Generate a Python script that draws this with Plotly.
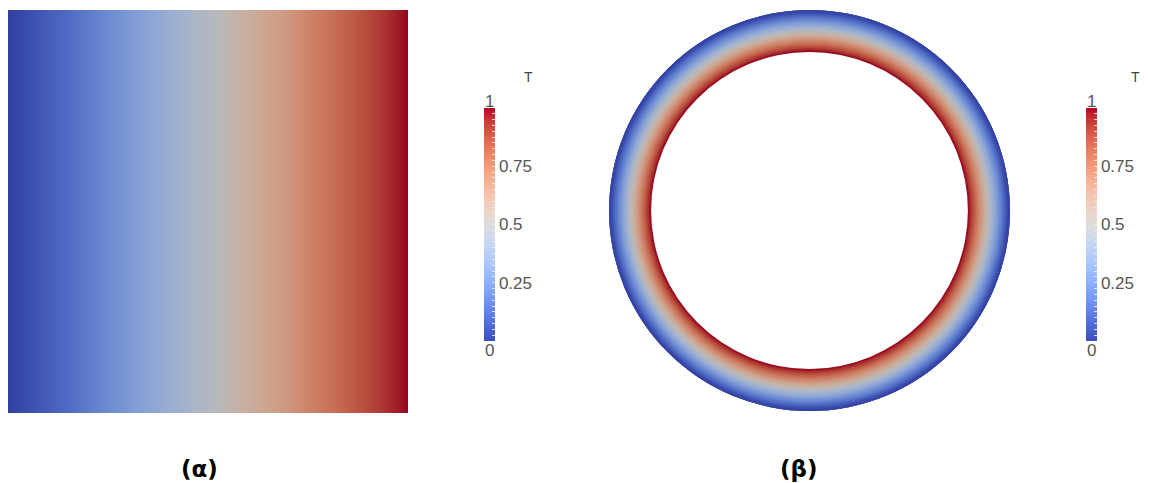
import plotly.graph_objects as go

# page body has an 8px margin; the figure is sized to fit the window
OFF = 8
W, H = 1149 - OFF, 483 - OFF


def px(X):
    return (X - OFF) / W


def py(Y):
    return 1 - (Y - OFF) / H


# ---------- data ----------
# (a) square: temperature sampled across x (left -> right)
x_pos = [0.0, 0.05, 0.1, 0.15, 0.2, 0.25, 0.3, 0.35, 0.4, 0.45, 0.5,
         0.55, 0.6, 0.65, 0.7, 0.75, 0.8, 0.85, 0.9, 0.95, 1.0]
T_square = [0.0, 0.04, 0.08, 0.12, 0.17, 0.22, 0.27, 0.32, 0.37, 0.42, 0.47,
            0.53, 0.58, 0.63, 0.68, 0.74, 0.79, 0.84, 0.89, 0.95, 1.0]
y_pos = [0.0, 1.0]

# (b) ring: temperature sampled across radius (inner -> outer)
r_inner = [0.79, 0.8, 0.81, 0.82, 0.83, 0.84, 0.85, 0.86, 0.87, 0.88, 0.89,
           0.9, 0.91, 0.92, 0.93, 0.94, 0.95, 0.96, 0.97, 0.98, 0.99]
r_outer = 1.0
T_ring = [0.99, 0.94, 0.89, 0.84, 0.79, 0.74, 0.69, 0.64, 0.59, 0.54, 0.49,
          0.44, 0.39, 0.34, 0.29, 0.24, 0.19, 0.14, 0.09, 0.04, 0.01]

cb_major = [0.25, 0.5, 0.75]
cb_major_text = ["0.25", "0.5", "0.75"]
panel_labels = ["(α)", "(β)"]

# Cool-to-warm colormap
cw = [(59, 76, 192), (68, 90, 204), (77, 104, 215), (87, 117, 225), (98, 130, 234),
      (108, 142, 241), (119, 154, 247), (130, 165, 251), (141, 176, 254), (152, 185, 255),
      (163, 194, 255), (174, 201, 253), (184, 208, 249), (194, 213, 244), (204, 217, 238),
      (213, 219, 230), (221, 221, 221), (229, 216, 209), (236, 211, 197), (241, 204, 185),
      (245, 196, 173), (247, 187, 160), (247, 177, 148), (247, 166, 135), (244, 154, 123),
      (241, 141, 111), (236, 127, 99), (229, 112, 88), (222, 96, 77), (213, 80, 66),
      (203, 62, 56), (192, 40, 47), (180, 4, 38)]
n = len(cw) - 1
pure = [[i / n, "rgb(%d,%d,%d)" % c] for i, c in enumerate(cw)]
shade = 0.84
muted = [[i / n, "rgb(%d,%d,%d)" % tuple(int(v * shade) for v in c)] for i, c in enumerate(cw)]

fig = go.Figure()

# (a) square heatmap
fig.add_trace(go.Heatmap(
    x=x_pos, y=y_pos, z=[T_square, T_square],
    zsmooth="best", coloraxis="coloraxis3", hoverinfo="skip",
    xaxis="x", yaxis="y"))

# (b) ring: overlapping annuli, inner first, each reaching the outer edge
for rb, tv in zip(r_inner, T_ring):
    fig.add_trace(go.Barpolar(
        r=[r_outer - rb], base=[rb], theta=[0], width=[360],
        marker=dict(color=[tv], coloraxis="coloraxis3", line=dict(width=0)),
        subplot="polar", hoverinfo="skip", showlegend=False))

# dummy traces to carry the two colorbars (pure colormap)
minor = [round(k * 0.025, 3) for k in range(41)]
minor_text = [cb_major_text[cb_major.index(v)] if v in cb_major else "" for v in minor]

LBL = dict(family="Liberation Sans, Arial", size=17, color="#555")


def cbar(xleft):
    return dict(
        x=px(xleft), xanchor="left", xpad=0,
        y=py(108), yanchor="top", ypad=0,
        lenmode="pixels", len=233, thicknessmode="pixels", thickness=11,
        outlinewidth=0, tickmode="array", tickvals=minor, ticktext=minor_text,
        ticks="inside", ticklen=3, tickcolor="rgba(235,235,235,0.9)", tickwidth=1,
        tickfont=LBL)


fig.add_trace(go.Scatter(x=[None], y=[None], mode="markers",
                         marker=dict(color=[0], coloraxis="coloraxis"),
                         xaxis="x", yaxis="y", showlegend=False, hoverinfo="skip"))
fig.add_trace(go.Scatter(x=[None], y=[None], mode="markers",
                         marker=dict(color=[0], coloraxis="coloraxis2"),
                         xaxis="x", yaxis="y", showlegend=False, hoverinfo="skip"))

annots = []


def note(X, Y, text, font):
    annots.append(dict(x=px(X), y=py(Y), xref="paper", yref="paper", text=text,
                       xanchor="center", yanchor="middle", showarrow=False, font=font))


for cx, tx in [(489.5, 528), (1091.5, 1135)]:
    note(cx, 101, "1", LBL)
    note(cx, 350, "0", LBL)
    note(tx, 77, "T", dict(family="Liberation Sans, Arial", size=14, color="#444"))
for lx, lab in zip([199, 799], panel_labels):
    note(lx, 469, "<b>%s</b>" % lab, dict(family="DejaVu Sans", size=23, color="#000"))

fig.update_layout(
    width=W, height=H, margin=dict(l=0, r=0, t=0, b=0),
    paper_bgcolor="white", plot_bgcolor="white", showlegend=False,
    xaxis=dict(domain=[px(8), px(408)], range=[0, 1], visible=False, fixedrange=True),
    yaxis=dict(domain=[py(413), py(10)], range=[0, 1], visible=False, fixedrange=True),
    polar=dict(domain=dict(x=[px(608), px(1011)], y=[py(411), py(10)]),
               bgcolor="rgba(0,0,0,0)",
               radialaxis=dict(visible=False, range=[0, 1]),
               angularaxis=dict(visible=False)),
    coloraxis=dict(colorscale=pure, cmin=0, cmax=1, colorbar=cbar(484)),
    coloraxis2=dict(colorscale=pure, cmin=0, cmax=1, colorbar=cbar(1086)),
    coloraxis3=dict(colorscale=muted, cmin=0, cmax=1, showscale=False),
    annotations=annots,
)

fig.write_html("out.html")
